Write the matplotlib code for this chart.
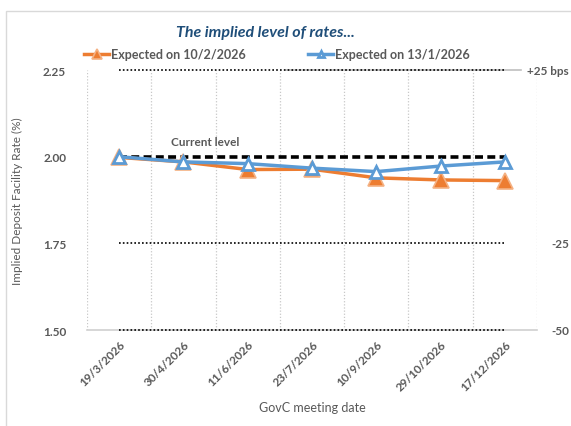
import matplotlib.pyplot as plt
from matplotlib.patches import Rectangle

# GovC meeting dates and implied deposit facility rate paths
meeting_dates = ['19/3/2026', '30/4/2026', '11/6/2026', '23/7/2026',
                 '10/9/2026', '29/10/2026', '17/12/2026']
expected_feb = [1.998, 1.985, 1.963, 1.964, 1.939, 1.933, 1.931]
expected_jan = [2.000, 1.985, 1.980, 1.967, 1.957, 1.973, 1.985]
current_level = 2.00
bps_levels = [2.25, 1.75, 1.50]
bps_labels = ['+25 bps', '-25', '-50']
y_ticks = [1.50, 1.75, 2.00, 2.25]

plt.rcParams['font.family'] = ['Lato', 'DejaVu Sans']
grey = '#595959'
orange = '#ED7D31'
blue = '#5B9BD5'

fig = plt.figure(figsize=(5.71, 4.27), dpi=100)
ax = fig.add_axes([0.1524, 0.2248, 0.788, 0.6088])

# outer chart frame
fig.patches.append(Rectangle((6 / 571, -0.1), 1.2, 1 - 12 / 427 + 0.1,
                             transform=fig.transFigure, fill=False,
                             edgecolor='#d9d9d9', lw=1))

x = list(range(len(meeting_dates)))

# reference levels in bps
for lvl in bps_levels:
    ax.plot([x[0], x[-1]], [lvl, lvl], color='black', ls=(0, (1, 1.3)), lw=1.2,
            zorder=3, clip_on=False)
ax.plot([2.6, 6.25], [2.25, 2.25], color='#bfbfbf', lw=1.2, zorder=1, clip_on=False)
for lvl, lab in zip(bps_levels, bps_labels):
    xpos = 0.978 if lab.startswith('+') else 1.033
    ax.text(xpos, lvl, lab, transform=ax.get_yaxis_transform(), ha='left',
            va='center', fontsize=8.5, fontweight='bold', color=grey)

ax.plot([x[0], x[-1]], [current_level, current_level], color='black',
        ls=(0, (2.2, 1.2)), lw=2.6, zorder=4)
ax.text(0.8, current_level + 0.045, 'Current level', fontsize=8.5,
        fontweight='bold', color=grey, va='center')

ax.plot(x, expected_feb, color=orange, lw=2.5, marker='^', ms=11,
        mfc=orange, mec='#F4B183', mew=1.2, zorder=5, label='Expected on 10/2/2026')
ax.plot(x, expected_jan, color=blue, lw=2.5, marker='^', ms=8,
        mfc='white', mec=blue, mew=2, zorder=6, label='Expected on 13/1/2026')

ax.set_xlim(-0.5, len(meeting_dates) - 0.5)
ax.set_ylim(1.5, 2.25)
ax.set_yticks(y_ticks)
ax.set_yticklabels([f'{v:.2f}' for v in y_ticks], fontsize=8.5, fontweight='bold', color=grey)
ax.set_xticks(x)
ax.set_xticklabels(meeting_dates, rotation=45, ha='right', rotation_mode='anchor',
                   fontsize=8.5, fontweight='bold', color=grey)
ax.tick_params(axis='both', length=0, pad=6)
ax.tick_params(axis='y', pad=15)

# category separators
ax.set_xticks([i - 0.5 for i in range(len(meeting_dates) + 1)], minor=True)
ax.tick_params(axis='x', which='minor', length=0)
ax.grid(True, which='minor', axis='x', color='#c8c8c8', ls=(0, (1, 1.5)), lw=0.9)

for side in ['top', 'right', 'left']:
    ax.spines[side].set_visible(False)
ax.spines['bottom'].set_color('#d0d0d0')
ax.spines['bottom'].set_linewidth(1.2)
ax.spines['bottom'].set_zorder(2.5)

ax.set_ylabel('Implied Deposit Facility Rate (%)', fontsize=8.5, color=grey, labelpad=14)
ax.set_xlabel('GovC meeting date', fontsize=9, color=grey, labelpad=6)

fig.text(0.465, 0.922, 'The implied level of rates...', ha='center', va='center',
         fontsize=11.5, fontweight='bold', fontstyle='italic', color='#1F4E79')

fig.legend(loc='center', bbox_to_anchor=(0.485, 0.871), ncol=2, frameon=False,
           handlelength=2.0, handletextpad=0.15, columnspacing=5.0, markerscale=0.6,
           labelcolor=grey, prop={'weight': 'bold', 'size': 9})

fig.savefig('out.png', dpi=100)
